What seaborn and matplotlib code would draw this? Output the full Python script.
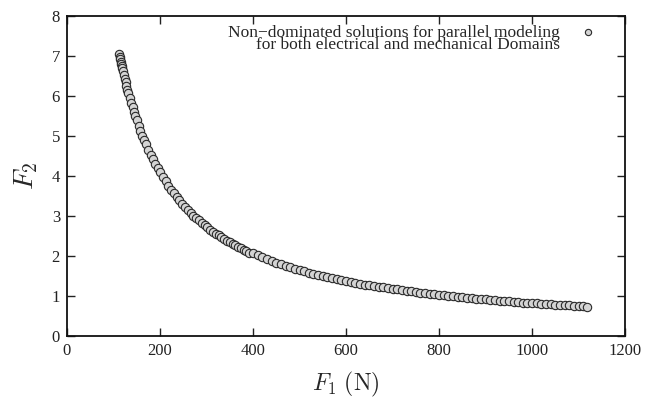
import matplotlib
matplotlib.use("Agg")
import matplotlib.pyplot as plt
import seaborn as sns
import pandas as pd

f1 = [113, 114, 115, 116, 117, 118, 119, 120, 122, 124, 126, 128, 130, 132,
      135, 138, 141, 144, 147, 150, 154, 158, 162, 166, 170, 175, 180, 185,
      190, 196,
      200, 206, 212, 218, 224, 230, 236, 242, 248, 254, 260, 266, 272, 278,
      284, 290, 296, 302, 308, 314, 320, 326, 332, 338, 344, 350, 356, 362,
      368, 374, 380, 386, 392,
      400, 410, 420, 430, 440, 450, 460, 470, 480, 490, 500, 510, 520, 530,
      540, 550, 560, 570, 580, 590, 600, 610, 620, 630, 640, 650, 660, 670,
      680, 690, 700, 710, 720, 730, 740, 750, 760, 770, 780, 790, 800, 810,
      820, 830, 840, 850, 860, 870, 880, 890, 900, 910, 920, 930, 940, 950,
      960, 970, 980, 990, 1000, 1010, 1020, 1030, 1040, 1050, 1060, 1070,
      1080, 1090, 1100, 1110, 1118]
f2 = [7.06, 6.98, 6.92, 6.86, 6.80, 6.74, 6.69, 6.63, 6.53, 6.43, 6.34, 6.25,
      6.16, 6.08, 5.95, 5.83, 5.72, 5.61, 5.50, 5.40, 5.26, 5.13, 5.01, 4.90,
      4.79, 4.66, 4.53, 4.42, 4.31, 4.19,
      4.10, 3.98, 3.87, 3.76, 3.66, 3.57, 3.47, 3.39, 3.31, 3.23, 3.15, 3.08,
      3.01, 2.95, 2.89, 2.83, 2.77, 2.72, 2.66, 2.61, 2.56, 2.52, 2.47, 2.43,
      2.38, 2.34, 2.30, 2.27, 2.23, 2.19, 2.16, 2.12, 2.09,
      2.07, 2.02, 1.97, 1.93, 1.88, 1.84, 1.80, 1.76, 1.73, 1.69, 1.66, 1.62,
      1.59, 1.56, 1.53, 1.51, 1.48, 1.45, 1.43, 1.40, 1.38, 1.36, 1.34, 1.31,
      1.29, 1.27, 1.25, 1.24, 1.22, 1.20, 1.18, 1.17, 1.15, 1.13, 1.12, 1.10,
      1.09, 1.08, 1.06, 1.05, 1.04, 1.02, 1.01, 1.00, 0.99, 0.97, 0.96, 0.95,
      0.94, 0.93, 0.92, 0.91, 0.90, 0.89, 0.88, 0.87, 0.86, 0.85, 0.84, 0.84,
      0.83, 0.82, 0.81, 0.80, 0.80, 0.79, 0.78, 0.77, 0.77, 0.76, 0.75, 0.75,
      0.74]
series_label = "Non\u2212dominated solutions for parallel modeling\nfor both electrical and mechanical Domains"
x_ticks = [0, 200, 400, 600, 800, 1000, 1200]
y_ticks = [0, 1, 2, 3, 4, 5, 6, 7, 8]

sns.set_style("ticks")
plt.rcParams['font.family'] = ['Liberation Serif', 'DejaVu Serif']
plt.rcParams['mathtext.fontset'] = 'cm'

df = pd.DataFrame({"F1": f1, "F2": f2})

fig = plt.figure(figsize=(6.56, 4.07), dpi=100)
ax = fig.add_axes([0.102, 0.174, 0.851, 0.787])
sns.scatterplot(data=df, x="F1", y="F2", ax=ax, s=36, color="#d4d4d4",
                edgecolor="#2a2a2a", linewidth=0.8, label=series_label, zorder=3)

ax.set_xlim(0, 1200)
ax.set_ylim(0, 8)
ax.set_xticks(x_ticks)
ax.set_yticks(y_ticks)
ax.tick_params(direction="in", length=6, width=1, top=True, right=True,
               labelsize=12, colors="#222222", pad=5)
ax.tick_params(axis="x", labeltop=False)
for sp in ax.spines.values():
    sp.set_visible(True)
    sp.set_linewidth(1.3)
    sp.set_color("#111111")

ax.set_xlabel(r"$F_1\ (\mathrm{N})$", fontsize=17, labelpad=8)
ax.set_ylabel(r"$F_2$", fontsize=20, labelpad=8)

leg = ax.legend(loc="upper right", frameon=False, markerfirst=False,
                fontsize=12.5, handletextpad=0.65, borderaxespad=0.15,
                markerscale=0.75, scatteryoffsets=[1.05],
                bbox_to_anchor=(0.982, 1.0))
for t in leg.get_texts():
    t.set_multialignment("right")
    t.set_linespacing(0.62)

fig.savefig("out.png", dpi=100)
